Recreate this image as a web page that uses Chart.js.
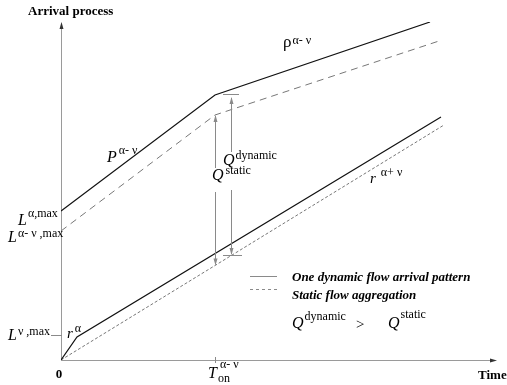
<!DOCTYPE html>
<html>
<head>
<meta charset="utf-8">
<script src="https://cdn.jsdelivr.net/npm/chart.js@4.4.0/dist/chart.umd.min.js"></script>
<style>
  html, body { margin: 0; padding: 0; background: #fff; }
  #wrap { width: 507px; height: 385px; }
</style>
</head>
<body>
<div id="wrap"><canvas id="grafico"></canvas></div>
<script>
// eixos (unidades arbitrarias do esquema)
const tempoMax = 436;
const chegadaMax = 338;
const tOn = 154;

// fluxo dinamico (linha cheia) e agregacao estatica (tracejada)
const dinamicoAltoX = [0, 154, 369];
const dinamicoAltoY = [149, 265, 338];
const estaticoAltoX = [0, 154, 378];
const estaticoAltoY = [129, 245, 319];
const dinamicoBaixoX = [0, 16, 380];
const dinamicoBaixoY = [0, 23, 243];
const estaticoBaixoX = [0, 383];
const estaticoBaixoY = [0, 235];

// setas Q (x, y de cima, y de baixo)
const qStatic = [154, 245, 94.5];
const qDynamic = [170, 265, 105];

const legendas = ["One dynamic flow arrival pattern", "Static flow aggregation"];

function pontos(xs, ys) {
  return xs.map((x, i) => ({ x: x, y: ys[i] }));
}

const serif = "'Liberation Serif', 'DejaVu Serif', serif";

function sup(ctx, x, y, base, alto, opt) {
  opt = opt || {};
  ctx.font = (opt.baseFont || "italic 15px ") + serif;
  ctx.textAlign = "left";
  ctx.textBaseline = "alphabetic";
  ctx.fillText(base, x, y);
  const w = ctx.measureText(base).width;
  ctx.font = (opt.supFont || "12px ") + serif;
  ctx.fillText(alto, x + w + (opt.dx || 1), y - (opt.dy || 6));
  if (opt.sub) {
    ctx.fillText(opt.sub, x + w + (opt.subDx || 1), y + 4);
  }
}

function seta(ctx, x, y, dir) {
  // dir: -1 para cima, 1 para baixo, 0 para direita
  ctx.beginPath();
  if (dir === 0) {
    ctx.moveTo(x, y);
    ctx.lineTo(x - 7, y - 2);
    ctx.lineTo(x - 7, y + 2);
  } else {
    ctx.moveTo(x, y);
    ctx.lineTo(x - 2, y - 7 * dir);
    ctx.lineTo(x + 2, y - 7 * dir);
  }
  ctx.closePath();
  ctx.fill();
}

const desenhos = {
  id: "desenhos",
  beforeDatasetsDraw(chart) {
    const ctx = chart.ctx;
    const area = chart.chartArea;
    ctx.save();
    ctx.strokeStyle = "#9a9a9a";
    ctx.lineWidth = 1;
    ctx.beginPath();
    ctx.moveTo(area.left + 0.5, area.bottom);
    ctx.lineTo(area.left + 0.5, area.top + 2);
    ctx.moveTo(area.left, area.bottom + 0.5);
    ctx.lineTo(area.right - 2, area.bottom + 0.5);
    ctx.stroke();
    ctx.fillStyle = "#333";
    seta(ctx, area.left + 0.5, area.top, -1);
    seta(ctx, area.right, area.bottom + 0.5, 0);
    ctx.restore();
  },
  afterDatasetsDraw(chart) {
    const ctx = chart.ctx;
    const sx = chart.scales.x;
    const sy = chart.scales.y;
    const px = (v) => sx.getPixelForValue(v);
    const py = (v) => sy.getPixelForValue(v);
    ctx.save();

    // setas Q
    ctx.strokeStyle = "#8a8a8a";
    ctx.fillStyle = "#8a8a8a";
    ctx.lineWidth = 1;
    const xs = Math.round(px(qStatic[0])) + 0.5;
    const xd = Math.round(px(qDynamic[0])) + 0.5;
    ctx.beginPath();
    ctx.moveTo(xs, py(qStatic[1]) + 1);
    ctx.lineTo(xs, py(192));
    ctx.moveTo(xs, py(168));
    ctx.lineTo(xs, py(qStatic[2]) - 1);
    ctx.moveTo(xd, py(qDynamic[1]) + 3);
    ctx.lineTo(xd, py(208));
    ctx.moveTo(xd, py(170));
    ctx.lineTo(xd, py(qDynamic[2]) - 1);
    // marcas horizontais
    ctx.moveTo(px(162), Math.round(py(qDynamic[1] + 1)) + 0.5);
    ctx.lineTo(px(178), Math.round(py(qDynamic[1] + 1)) + 0.5);
    ctx.moveTo(px(162), Math.round(py(qDynamic[2])) + 0.5);
    ctx.lineTo(px(181), Math.round(py(qDynamic[2])) + 0.5);
    // marca T_on
    ctx.moveTo(Math.round(px(tOn)) + 0.5, py(3));
    ctx.lineTo(Math.round(px(tOn)) + 0.5, py(-3));
    // marca L^v,max
    ctx.moveTo(px(-10), Math.round(py(25)) + 0.5);
    ctx.lineTo(px(1), Math.round(py(25)) + 0.5);
    ctx.stroke();
    seta(ctx, xs, py(qStatic[1]), -1);
    seta(ctx, xs, py(qStatic[2]), 1);
    seta(ctx, xd, py(qDynamic[1]) + 2, -1);
    seta(ctx, xd, py(qDynamic[2]), 1);

    // legenda
    ctx.beginPath();
    ctx.strokeStyle = "#8a8a8a";
    ctx.moveTo(250, 276.5);
    ctx.lineTo(277, 276.5);
    ctx.stroke();
    ctx.setLineDash([3, 3]);
    ctx.beginPath();
    ctx.moveTo(250, 289.5);
    ctx.lineTo(277, 289.5);
    ctx.stroke();
    ctx.setLineDash([]);

    ctx.fillStyle = "#000";
    ctx.textBaseline = "alphabetic";
    ctx.font = "italic bold 13px " + serif;
    ctx.fillText(legendas[0], 292, 281);
    ctx.fillText(legendas[1], 292, 299);
    sup(ctx, 292, 328, "Q", "dynamic", { baseFont: "italic 16px ", dy: 8 });
    ctx.font = "15px " + serif;
    ctx.fillText(">", 356, 329);
    sup(ctx, 388, 328, "Q", "static", { baseFont: "italic 16px ", dy: 10 });

    // rotulos das curvas
    sup(ctx, px(222), py(313), "\u03c1", "\u03b1- \u03bd", { baseFont: "17px ", dy: 3 });
    sup(ctx, px(46), py(198), "P", "\u03b1- \u03bd", { baseFont: "italic 16px ", dy: 8, dx: 2 });
    sup(ctx, px(309), py(177), "r", "\u03b1+ \u03bd", { dy: 7, dx: 5 });
    sup(ctx, px(6), py(22), "r", "\u03b1", { dy: 6, dx: 2 });
    sup(ctx, px(-43), py(135), "L", "\u03b1,max", { baseFont: "italic 16px ", dy: 8 });
    sup(ctx, px(-53), py(118), "L", "\u03b1- \u03bd ,max", { baseFont: "italic 16px ", dy: 5 });
    sup(ctx, px(-53), py(20), "L", "\u03bd ,max", { baseFont: "italic 16px ", dy: 5 });
    sup(ctx, px(162), py(195), "Q", "dynamic", { baseFont: "italic 16px ", dy: 6 });
    sup(ctx, px(151), py(180), "Q", "static", { baseFont: "italic 16px ", dy: 6, dx: 2 });
    sup(ctx, px(147), py(-18), "T", "\u03b1- \u03bd", { baseFont: "italic 16px ", dy: 10, dx: 3, sub: "on", subDx: 0 });

    // titulos dos eixos
    ctx.font = "bold 13px " + serif;
    ctx.textAlign = "left";
    ctx.fillText("Arrival process", 28, 15);
    ctx.fillText("Time", 478, 379);
    ctx.textAlign = "center";
    ctx.fillText("0", px(-2), py(-18));
    ctx.restore();
  },
};

new Chart(document.getElementById("grafico"), {
  type: "scatter",
  data: {
    datasets: [
      {
        label: "dinamico alto",
        data: pontos(dinamicoAltoX, dinamicoAltoY),
        borderColor: "#111",
        borderWidth: 1.2,
      },
      {
        label: "estatico alto",
        data: pontos(estaticoAltoX, estaticoAltoY),
        borderColor: "#777",
        borderWidth: 1,
        borderDash: [7, 5],
      },
      {
        label: "dinamico baixo",
        data: pontos(dinamicoBaixoX, dinamicoBaixoY),
        borderColor: "#111",
        borderWidth: 1.2,
      },
      {
        label: "estatico baixo",
        data: pontos(estaticoBaixoX, estaticoBaixoY),
        borderColor: "#777",
        borderWidth: 1,
        borderDash: [3, 2],
      },
    ],
  },
  options: {
    responsive: true,
    maintainAspectRatio: false,
    animation: false,
    showLine: true,
    elements: { point: { radius: 0 }, line: { tension: 0 } },
    layout: { padding: { left: 61, top: 22, right: 10, bottom: 25 } },
    plugins: { legend: { display: false }, tooltip: { enabled: false } },
    scales: {
      x: { type: "linear", min: 0, max: tempoMax, display: false },
      y: { type: "linear", min: 0, max: chegadaMax, display: false },
    },
  },
  plugins: [desenhos],
});
</script>
</body>
</html>
